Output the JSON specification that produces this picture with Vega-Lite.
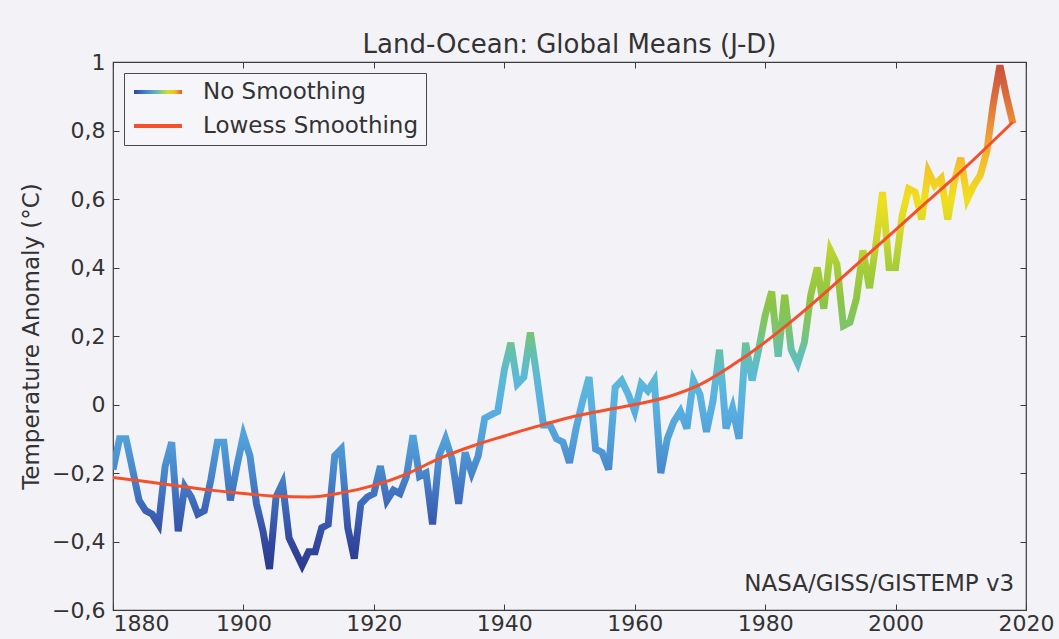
{
  "$schema": "https://vega.github.io/schema/vega-lite/v6.json",
  "width": 913,
  "height": 548,
  "autosize": {"type": "none"},
  "padding": {"left": 113, "top": 62, "right": 33, "bottom": 29},
  "background": "#f3f2f7",
  "config": {
    "font": "DejaVu Sans",
    "view": {"stroke": "#3c3c3c", "strokeWidth": 1.2, "fill": "#f3f2f7"},
    "axis": {
      "labelFont": "DejaVu Sans",
      "labelFontSize": 22,
      "labelColor": "#333333",
      "titleFont": "DejaVu Sans",
      "titleFontSize": 23,
      "titleFontWeight": "normal",
      "titleColor": "#333333",
      "domain": false,
      "grid": false,
      "tickColor": "#3c3c3c",
      "tickSize": -6,
      "tickWidth": 1
    }
  },
  "title": {
    "text": "Land-Ocean: Global Means (J-D)",
    "font": "DejaVu Sans",
    "fontSize": 26,
    "fontWeight": "normal",
    "color": "#333333",
    "baseline": "alphabetic",
    "offset": 6,
    "dy": 34,
    "anchor": "middle"
  },
  "datasets": {
    "annual": [
      {"year": 1880, "anomaly": -0.19}, {"year": 1881, "anomaly": -0.10}, {"year": 1882, "anomaly": -0.10},
      {"year": 1883, "anomaly": -0.19}, {"year": 1884, "anomaly": -0.28}, {"year": 1885, "anomaly": -0.31},
      {"year": 1886, "anomaly": -0.32}, {"year": 1887, "anomaly": -0.35}, {"year": 1888, "anomaly": -0.18},
      {"year": 1889, "anomaly": -0.11}, {"year": 1890, "anomaly": -0.37}, {"year": 1891, "anomaly": -0.24},
      {"year": 1892, "anomaly": -0.27}, {"year": 1893, "anomaly": -0.32}, {"year": 1894, "anomaly": -0.31},
      {"year": 1895, "anomaly": -0.22}, {"year": 1896, "anomaly": -0.11}, {"year": 1897, "anomaly": -0.11},
      {"year": 1898, "anomaly": -0.28}, {"year": 1899, "anomaly": -0.18}, {"year": 1900, "anomaly": -0.09},
      {"year": 1901, "anomaly": -0.15}, {"year": 1902, "anomaly": -0.29}, {"year": 1903, "anomaly": -0.37},
      {"year": 1904, "anomaly": -0.48}, {"year": 1905, "anomaly": -0.27}, {"year": 1906, "anomaly": -0.23},
      {"year": 1907, "anomaly": -0.39}, {"year": 1908, "anomaly": -0.43}, {"year": 1909, "anomaly": -0.47},
      {"year": 1910, "anomaly": -0.43}, {"year": 1911, "anomaly": -0.43}, {"year": 1912, "anomaly": -0.36},
      {"year": 1913, "anomaly": -0.35}, {"year": 1914, "anomaly": -0.15}, {"year": 1915, "anomaly": -0.13},
      {"year": 1916, "anomaly": -0.36}, {"year": 1917, "anomaly": -0.45}, {"year": 1918, "anomaly": -0.29},
      {"year": 1919, "anomaly": -0.27}, {"year": 1920, "anomaly": -0.26}, {"year": 1921, "anomaly": -0.18},
      {"year": 1922, "anomaly": -0.28}, {"year": 1923, "anomaly": -0.25}, {"year": 1924, "anomaly": -0.26},
      {"year": 1925, "anomaly": -0.21}, {"year": 1926, "anomaly": -0.09}, {"year": 1927, "anomaly": -0.21},
      {"year": 1928, "anomaly": -0.20}, {"year": 1929, "anomaly": -0.35}, {"year": 1930, "anomaly": -0.15},
      {"year": 1931, "anomaly": -0.10}, {"year": 1932, "anomaly": -0.16}, {"year": 1933, "anomaly": -0.29},
      {"year": 1934, "anomaly": -0.14}, {"year": 1935, "anomaly": -0.20}, {"year": 1936, "anomaly": -0.15},
      {"year": 1937, "anomaly": -0.04}, {"year": 1938, "anomaly": -0.03}, {"year": 1939, "anomaly": -0.02},
      {"year": 1940, "anomaly": 0.10}, {"year": 1941, "anomaly": 0.18}, {"year": 1942, "anomaly": 0.06},
      {"year": 1943, "anomaly": 0.08}, {"year": 1944, "anomaly": 0.21}, {"year": 1945, "anomaly": 0.08},
      {"year": 1946, "anomaly": -0.06}, {"year": 1947, "anomaly": -0.06}, {"year": 1948, "anomaly": -0.10},
      {"year": 1949, "anomaly": -0.11}, {"year": 1950, "anomaly": -0.17}, {"year": 1951, "anomaly": -0.07},
      {"year": 1952, "anomaly": 0.01}, {"year": 1953, "anomaly": 0.08}, {"year": 1954, "anomaly": -0.13},
      {"year": 1955, "anomaly": -0.14}, {"year": 1956, "anomaly": -0.19}, {"year": 1957, "anomaly": 0.05},
      {"year": 1958, "anomaly": 0.07}, {"year": 1959, "anomaly": 0.03}, {"year": 1960, "anomaly": -0.02},
      {"year": 1961, "anomaly": 0.06}, {"year": 1962, "anomaly": 0.04}, {"year": 1963, "anomaly": 0.07},
      {"year": 1964, "anomaly": -0.20}, {"year": 1965, "anomaly": -0.10}, {"year": 1966, "anomaly": -0.05},
      {"year": 1967, "anomaly": -0.02}, {"year": 1968, "anomaly": -0.07}, {"year": 1969, "anomaly": 0.07},
      {"year": 1970, "anomaly": 0.03}, {"year": 1971, "anomaly": -0.08}, {"year": 1972, "anomaly": 0.01},
      {"year": 1973, "anomaly": 0.16}, {"year": 1974, "anomaly": -0.07}, {"year": 1975, "anomaly": -0.01},
      {"year": 1976, "anomaly": -0.10}, {"year": 1977, "anomaly": 0.18}, {"year": 1978, "anomaly": 0.07},
      {"year": 1979, "anomaly": 0.16}, {"year": 1980, "anomaly": 0.26}, {"year": 1981, "anomaly": 0.33},
      {"year": 1982, "anomaly": 0.14}, {"year": 1983, "anomaly": 0.32}, {"year": 1984, "anomaly": 0.16},
      {"year": 1985, "anomaly": 0.12}, {"year": 1986, "anomaly": 0.18}, {"year": 1987, "anomaly": 0.32},
      {"year": 1988, "anomaly": 0.40}, {"year": 1989, "anomaly": 0.28}, {"year": 1990, "anomaly": 0.45},
      {"year": 1991, "anomaly": 0.41}, {"year": 1992, "anomaly": 0.23}, {"year": 1993, "anomaly": 0.24},
      {"year": 1994, "anomaly": 0.31}, {"year": 1995, "anomaly": 0.45}, {"year": 1996, "anomaly": 0.34},
      {"year": 1997, "anomaly": 0.47}, {"year": 1998, "anomaly": 0.62}, {"year": 1999, "anomaly": 0.40},
      {"year": 2000, "anomaly": 0.40}, {"year": 2001, "anomaly": 0.55}, {"year": 2002, "anomaly": 0.63},
      {"year": 2003, "anomaly": 0.62}, {"year": 2004, "anomaly": 0.54}, {"year": 2005, "anomaly": 0.68},
      {"year": 2006, "anomaly": 0.64}, {"year": 2007, "anomaly": 0.66}, {"year": 2008, "anomaly": 0.54},
      {"year": 2009, "anomaly": 0.65}, {"year": 2010, "anomaly": 0.72}, {"year": 2011, "anomaly": 0.60},
      {"year": 2012, "anomaly": 0.64}, {"year": 2013, "anomaly": 0.67}, {"year": 2014, "anomaly": 0.74},
      {"year": 2015, "anomaly": 0.88}, {"year": 2016, "anomaly": 0.99}, {"year": 2017, "anomaly": 0.90},
      {"year": 2018, "anomaly": 0.82}
    ],
    "lowess": [
      {"year": 1880, "smooth": -0.213}, {"year": 1885, "smooth": -0.225}, {"year": 1890, "smooth": -0.238},
      {"year": 1895, "smooth": -0.250}, {"year": 1900, "smooth": -0.260}, {"year": 1905, "smooth": -0.268},
      {"year": 1910, "smooth": -0.270}, {"year": 1915, "smooth": -0.258}, {"year": 1920, "smooth": -0.236},
      {"year": 1925, "smooth": -0.203}, {"year": 1930, "smooth": -0.158}, {"year": 1935, "smooth": -0.122},
      {"year": 1940, "smooth": -0.092}, {"year": 1945, "smooth": -0.064}, {"year": 1950, "smooth": -0.038},
      {"year": 1955, "smooth": -0.018}, {"year": 1960, "smooth": 0.000}, {"year": 1965, "smooth": 0.022},
      {"year": 1970, "smooth": 0.058}, {"year": 1975, "smooth": 0.115}, {"year": 1980, "smooth": 0.182},
      {"year": 1985, "smooth": 0.258}, {"year": 1990, "smooth": 0.340}, {"year": 1995, "smooth": 0.425},
      {"year": 2000, "smooth": 0.510}, {"year": 2005, "smooth": 0.595}, {"year": 2010, "smooth": 0.680},
      {"year": 2015, "smooth": 0.770}, {"year": 2018, "smooth": 0.825}
    ]
  },
  "layer": [
    {
      "data": {"name": "annual"},
      "mark": {
        "type": "line",
        "strokeWidth": 7,
        "strokeJoin": "miter",
        "clip": true,
        "stroke": {
          "gradient": "linear",
          "x1": 0, "y1": 1, "x2": 0, "y2": 0,
          "stops": [
            {"offset": 0.0, "color": "#2b3b8f"},
            {"offset": 0.054, "color": "#33489e"},
            {"offset": 0.122, "color": "#3d66b8"},
            {"offset": 0.19, "color": "#4886cb"},
            {"offset": 0.258, "color": "#52a0d9"},
            {"offset": 0.326, "color": "#59b0e2"},
            {"offset": 0.381, "color": "#5cb9d6"},
            {"offset": 0.429, "color": "#64c0ae"},
            {"offset": 0.476, "color": "#7cc470"},
            {"offset": 0.531, "color": "#8cc545"},
            {"offset": 0.599, "color": "#a6cd38"},
            {"offset": 0.667, "color": "#d2d82a"},
            {"offset": 0.735, "color": "#f0df1e"},
            {"offset": 0.803, "color": "#f3c22a"},
            {"offset": 0.871, "color": "#ec9736"},
            {"offset": 0.939, "color": "#dc6c3c"},
            {"offset": 1.0, "color": "#c9523e"}
          ]
        }
      },
      "encoding": {
        "x": {
          "field": "year",
          "type": "quantitative",
          "scale": {"domain": [1880, 2020], "nice": false, "zero": false},
          "axis": {
            "orient": "bottom",
            "title": null,
            "values": [1880, 1900, 1920, 1940, 1960, 1980, 2000, 2020],
            "format": "d",
            "labelFlush": false,
            "labelAlign": {"condition": {"test": "datum.value == 1880", "value": "left"}, "value": "center"},
            "labelPadding": 9
          }
        },
        "y": {
          "field": "anomaly",
          "type": "quantitative",
          "scale": {"domain": [-0.6, 1], "nice": false, "zero": false},
          "axis": {
            "orient": "left",
            "title": "Temperature Anomaly (°C)",
            "values": [-0.6, -0.4, -0.2, 0, 0.2, 0.4, 0.6, 0.8, 1],
            "labelExpr": "replace(format(datum.value, '~g'), '.', ',')",
            "labelPadding": 14,
            "titlePadding": 8
          }
        }
      }
    },
    {
      "data": {"name": "lowess"},
      "mark": {"type": "line", "stroke": "#f4502a", "strokeWidth": 3, "interpolate": "monotone", "clip": true},
      "encoding": {
        "x": {
          "field": "year",
          "type": "quantitative",
          "axis": {"orient": "top", "labels": false, "title": null, "minExtent": 0, "maxExtent": 0, "values": [1880, 1900, 1920, 1940, 1960, 1980, 2000, 2020]}
        },
        "y": {
          "field": "smooth",
          "type": "quantitative",
          "axis": {"orient": "right", "labels": false, "title": null, "minExtent": 0, "maxExtent": 0, "values": [-0.6, -0.4, -0.2, 0, 0.2, 0.4, 0.6, 0.8, 1]}
        }
      }
    },
    {
      "data": {"name": "lowess"},
      "transform": [{"filter": "false"}],
      "mark": {
        "type": "point",
        "filled": true,
        "opacity": 1,
        "size": 576,
        "strokeWidth": 0,
        "shape": "M-1,-0.17H3V0.17H-1Z"
      },
      "encoding": {
        "x": {"field": "year", "type": "quantitative", "axis": null},
        "y": {"field": "smooth", "type": "quantitative", "axis": null},
        "color": {
          "field": "series",
          "type": "nominal",
          "scale": {
            "domain": ["No Smoothing", "Lowess Smoothing"],
            "range": [
              {"expr": "{gradient: 'linear', x1: 0, y1: 0, x2: 1, y2: 0, stops: [{offset: 0, color: '#2f46a0'}, {offset: 0.3, color: '#4a90d2'}, {offset: 0.5, color: '#6cc0a8'}, {offset: 0.7, color: '#d6dc28'}, {offset: 0.85, color: '#f2c02a'}, {offset: 1, color: '#e0582e'}]}"},
              "#f4502a"
            ]
          },
          "legend": {
            "title": null,
            "orient": "top-left",
            "offset": 11,
            "padding": 7,
            "symbolOffset": 3,
            "rowPadding": 10,
            "strokeColor": "#4a4a4a",
            "fillColor": "#f6f5f9",
            "cornerRadius": 0,
            "symbolType": "M-1,-0.17H3V0.17H-1Z",
            "symbolSize": 576,
            "symbolStrokeWidth": 0,
            "symbolOpacity": 1,
            "labelOffset": 45,
            "labelLimit": 0,
            "labelFont": "DejaVu Sans",
            "labelFontSize": 23,
            "labelColor": "#333333"
          }
        }
      }
    },
    {
      "data": {"values": [{}]},
      "mark": {"type": "text", "align": "right", "baseline": "alphabetic", "font": "DejaVu Sans", "fontSize": 23, "color": "#333333"},
      "encoding": {
        "x": {"datum": 2018.2, "type": "quantitative", "axis": null},
        "y": {"datum": -0.545, "type": "quantitative", "axis": null},
        "text": {"value": "NASA/GISS/GISTEMP v3"}
      }
    }
  ],
  "resolve": {"axis": {"x": "independent", "y": "independent"}}
}
